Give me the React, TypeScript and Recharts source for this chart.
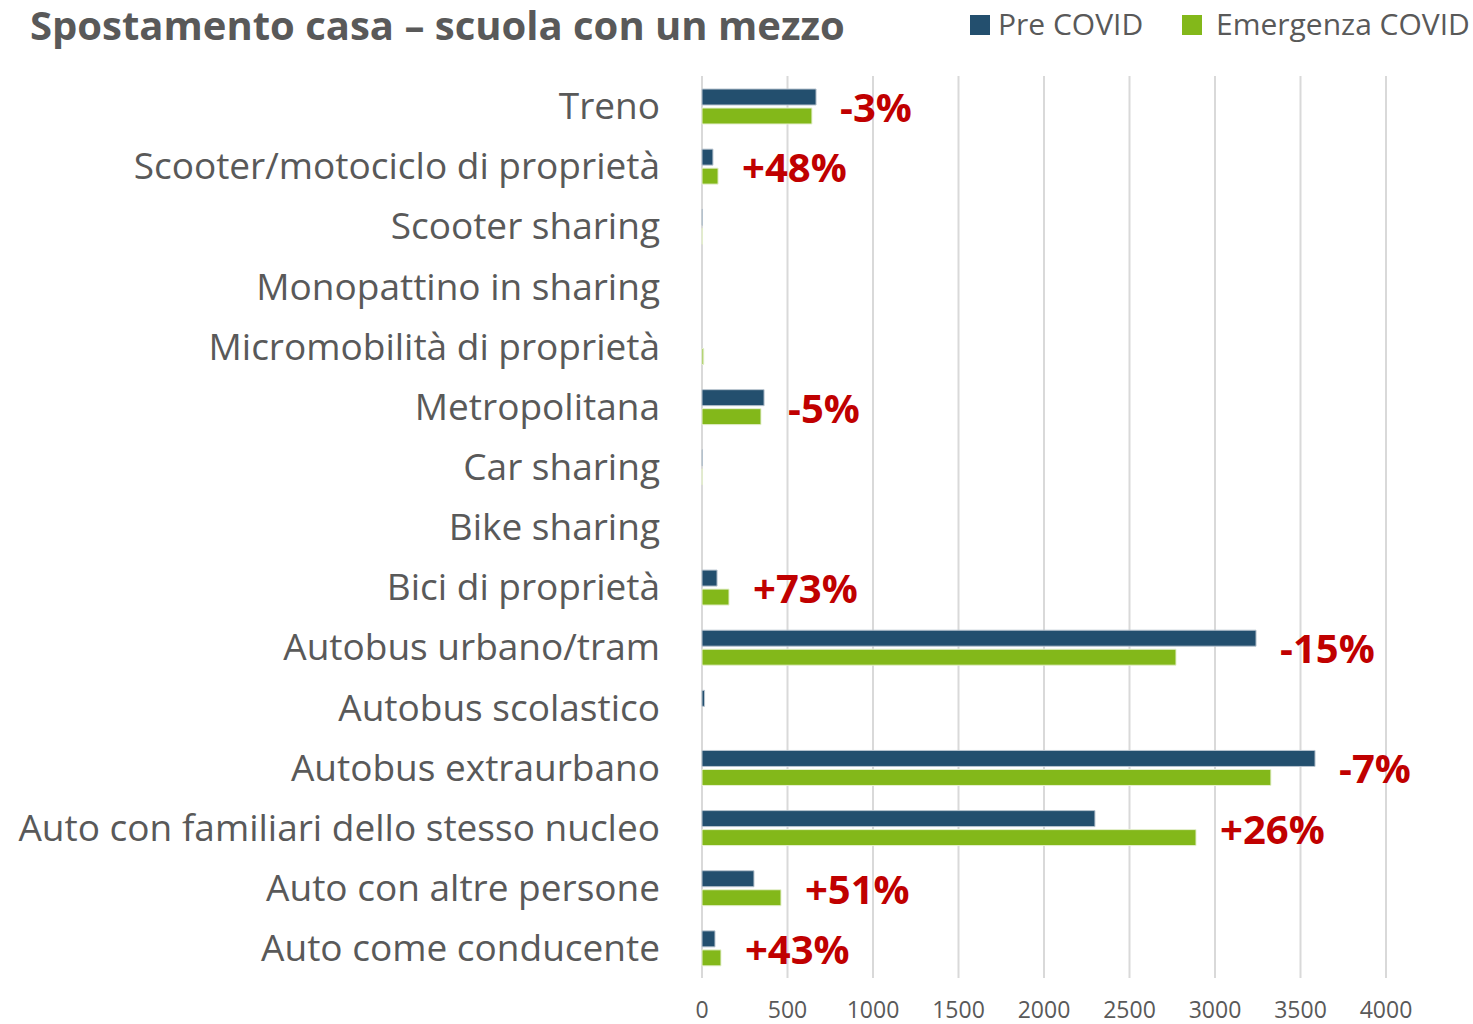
import React from "react";
import { BarChart, Bar, XAxis, YAxis, CartesianGrid, LabelList } from "recharts";

const categories = [
  "Treno",
  "Scooter/motociclo di proprietà",
  "Scooter sharing",
  "Monopattino in sharing",
  "Micromobilità di proprietà",
  "Metropolitana",
  "Car sharing",
  "Bike sharing",
  "Bici di proprietà",
  "Autobus urbano/tram",
  "Autobus scolastico",
  "Autobus extraurbano",
  "Auto con familiari dello stesso nucleo",
  "Auto con altre persone",
  "Auto come conducente",
];
const preCovid = [667, 64, 2, 0, 0, 363, 2, 0, 88, 3240, 15, 3585, 2298, 304, 76];
const emergenzaCovid = [643, 94, 2, 0, 10, 345, 1, 0, 158, 2772, 0, 3327, 2889, 462, 111];
const changes = ["-3%", "+48%", "", "", "", "-5%", "", "", "+73%", "-15%", "", "-7%", "+26%", "+51%", "+43%"];
const xTicks = [0, 500, 1000, 1500, 2000, 2500, 3000, 3500, 4000];

const PRE_COLOR = "#234F6E";
const EM_COLOR = "#83B81A";
const TEXT = "#595959";
const RED = "#C00000";
const FONT = "'Open Sans', sans-serif";
const GAP = 3;

const data = categories.map((name, i) => ({
  name,
  pre: preCovid[i],
  em: emergenzaCovid[i],
  labelPre: preCovid[i] >= emergenzaCovid[i] ? changes[i] : "",
  labelEm: preCovid[i] < emergenzaCovid[i] ? changes[i] : "",
}));

const makeLabel = (below: boolean) => (props: any) => {
  const { x, y, width, height, value } = props;
  if (!value) return null;
  const cy = below ? Number(y) + Number(height) + GAP / 2 : Number(y) - GAP / 2;
  return (
    <text
      x={Number(x) + Number(width) + 24}
      y={cy}
      fill={RED}
      fontFamily={FONT}
      fontWeight={700}
      fontSize={40}
      dominantBaseline="central"
    >
      {value}
    </text>
  );
};

export default function App() {
  return (
    <div style={{ position: "absolute", left: 0, top: 0, width: 1473, height: 1024, background: "#fff", fontFamily: FONT }}>
      <div
        style={{
          position: "absolute",
          left: 30,
          top: 3,
          fontSize: 40,
          lineHeight: "44px",
          fontWeight: 700,
          color: TEXT,
          whiteSpace: "nowrap",
        }}
      >
        Spostamento casa – scuola con un mezzo
      </div>
      <div style={{ position: "absolute", left: 970, top: 15, width: 20, height: 20, background: PRE_COLOR }} />
      <div style={{ position: "absolute", left: 998, top: 3, fontSize: 30, color: TEXT, whiteSpace: "nowrap" }}>Pre COVID</div>
      <div style={{ position: "absolute", left: 1182, top: 15, width: 20, height: 20, background: EM_COLOR }} />
      <div style={{ position: "absolute", left: 1216, top: 3, fontSize: 30, color: TEXT, whiteSpace: "nowrap" }}>Emergenza COVID</div>
      <BarChart
        width={1473}
        height={1024}
        data={data}
        layout="vertical"
        margin={{ top: 76, right: 87, bottom: 16, left: 0 }}
        barSize={16}
        barGap={GAP}
      >
        <CartesianGrid horizontal={false} stroke="#d9d9d9" strokeWidth={2} />
        <XAxis
          type="number"
          domain={[0, 4000]}
          ticks={xTicks}
          axisLine={false}
          tickLine={false}
          tickSize={0}
          tickMargin={24}
          height={30}
          tick={{ fill: TEXT, fontSize: 23, fontFamily: FONT }}
        />
        <YAxis
          type="category"
          dataKey="name"
          width={702}
          axisLine={false}
          tickLine={false}
          tickSize={0}
          tickMargin={42}
          interval={0}
          tick={{ fill: TEXT, fontSize: 37, fontFamily: FONT }}
        />
        <Bar dataKey="pre" fill={PRE_COLOR} stroke="#b8c4cf" strokeWidth={1} isAnimationActive={false}>
          <LabelList dataKey="labelPre" content={makeLabel(true)} />
        </Bar>
        <Bar dataKey="em" fill={EM_COLOR} stroke="#e6f0d0" strokeWidth={1} isAnimationActive={false}>
          <LabelList dataKey="labelEm" content={makeLabel(false)} />
        </Bar>
      </BarChart>
    </div>
  );
}
